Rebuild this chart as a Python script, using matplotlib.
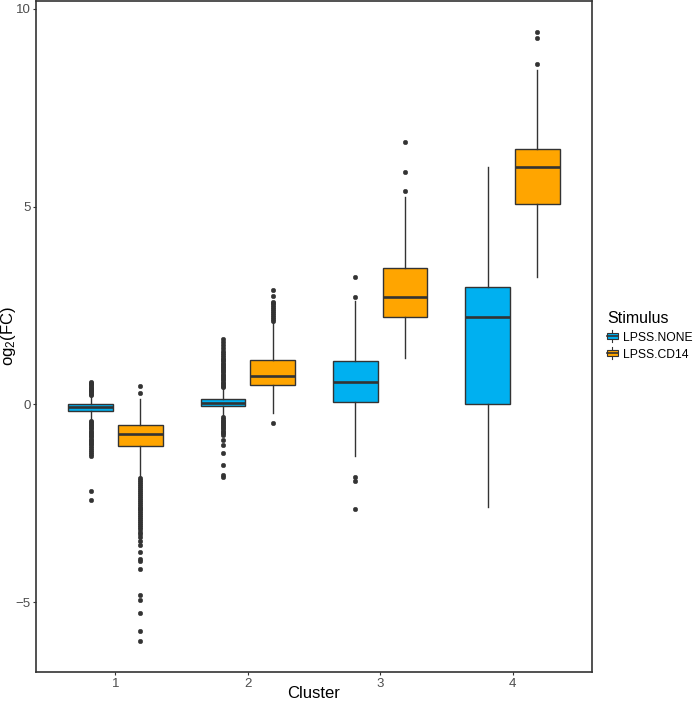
import matplotlib
matplotlib.use("Agg")
import matplotlib.pyplot as plt
from matplotlib.patches import Rectangle, Patch
from matplotlib.lines import Line2D
from matplotlib.legend_handler import HandlerBase

plt.rcParams['font.family'] = ['Liberation Sans', 'DejaVu Sans']
plt.rcParams['mathtext.fontset'] = 'custom'
plt.rcParams['mathtext.rm'] = 'Liberation Sans'
plt.rcParams['mathtext.it'] = 'Liberation Sans:italic'

# ---------------- data ----------------
clusters = [1, 2, 3, 4]
stimuli = ["LPSS.NONE", "LPSS.CD14"]
colors = {"LPSS.NONE": "#00B0F0", "LPSS.CD14": "#FFA500"}

none_q1 = [-0.17, -0.04, 0.06, 0.00]
none_med = [-0.07, 0.04, 0.56, 2.20]
none_q3 = [0.00, 0.14, 1.09, 2.97]
none_wlo = [-0.38, -0.30, -1.30, -2.60]
none_whi = [0.21, 0.40, 2.62, 5.99]
none_fliers = [
    [0.24, 0.27, 0.30, 0.33, 0.36, 0.39, 0.42, 0.45, 0.48, 0.51, 0.54, 0.57,
     -0.41, -0.45, -0.49, -0.53, -0.57, -0.61, -0.65, -0.69, -0.73, -0.77,
     -0.81, -0.85, -0.89, -0.93, -0.97, -1.01, -1.05, -1.10, -1.15, -1.20,
     -1.25, -1.30, -2.20, -2.42],
    [0.43, 0.47, 0.51, 0.55, 0.59, 0.63, 0.67, 0.71, 0.75, 0.79, 0.83, 0.87,
     0.91, 0.95, 0.99, 1.03, 1.07, 1.11, 1.15, 1.20, 1.25, 1.30, 1.36, 1.42,
     1.50, 1.58, 1.65,
     -0.33, -0.37, -0.41, -0.45, -0.49, -0.53, -0.57, -0.61, -0.65, -0.69,
     -0.73, -0.78, -0.91, -1.02, -1.22, -1.53, -1.80, -1.84],
    [2.71, 3.23, -1.85, -1.95, -2.65],
    [],
]

cd14_q1 = [-1.06, 0.50, 2.22, 5.07]
cd14_med = [-0.74, 0.72, 2.71, 5.99]
cd14_q3 = [-0.53, 1.12, 3.44, 6.46]
cd14_wlo = [-1.83, -0.21, 1.16, 3.21]
cd14_whi = [0.14, 2.05, 5.24, 8.45]
cd14_fliers = [
    [0.28, 0.47,
     -1.86, -1.91, -1.96, -2.01, -2.06, -2.11, -2.16, -2.21, -2.26, -2.31,
     -2.36, -2.41, -2.46, -2.51, -2.56, -2.61, -2.66, -2.71, -2.76, -2.81,
     -2.86, -2.91, -2.96, -3.01, -3.06, -3.11, -3.16, -3.22, -3.28, -3.35,
     -3.45, -3.57, -3.74, -3.92, -3.96, -4.17, -4.82, -4.96, -5.29, -5.73,
     -5.98],
    [2.10, 2.15, 2.20, 2.25, 2.30, 2.35, 2.40, 2.45, 2.50, 2.55, 2.60, 2.75,
     2.90, -0.47],
    [5.39, 5.87, 6.63],
    [8.60, 9.27, 9.42],
]

# ---------------- figure ----------------
fig = plt.figure(figsize=(6.99, 7.02), dpi=100)
ax = fig.add_axes([36 / 699, 1 - 672 / 702, (592 - 36) / 699, 671 / 702])

edge = "#333333"
dodge = 0.1875
width = 0.3375


def make_stats(q1, med, q3, wlo, whi, fl):
    return [dict(q1=a, med=b, q3=c, whislo=d, whishi=e, fliers=f)
            for a, b, c, d, e, f in zip(q1, med, q3, wlo, whi, fl)]


groups = [
    ("LPSS.NONE", make_stats(none_q1, none_med, none_q3, none_wlo, none_whi, none_fliers), -dodge),
    ("LPSS.CD14", make_stats(cd14_q1, cd14_med, cd14_q3, cd14_wlo, cd14_whi, cd14_fliers), dodge),
]

for name, stats, off in groups:
    ax.bxp(stats, positions=[c + off for c in clusters], widths=width,
           patch_artist=True, showcaps=False, manage_ticks=False,
           boxprops=dict(facecolor=colors[name], edgecolor=edge, linewidth=1.0),
           medianprops=dict(color=edge, linewidth=1.9, solid_capstyle='butt'),
           whiskerprops=dict(color=edge, linewidth=1.0),
           flierprops=dict(marker='o', markerfacecolor=edge, markeredgecolor=edge,
                           markersize=3.3, markeredgewidth=0.3))

ax.set_xlim(0.4, 4.6)
ax.set_ylim(-6.77, 10.2)
ax.set_xticks(clusters)
ax.set_xticklabels([str(c) for c in clusters])
ax.set_yticks([-5, 0, 5, 10])
ax.set_yticklabels(["\u22125", "0", "5", "10"])
ax.tick_params(axis='both', colors="#333333", labelcolor="#4D4D4D", length=2.5,
               width=0.8, labelsize=9.5, pad=1.5)
for s in ax.spines.values():
    s.set_color("#333333")
    s.set_linewidth(1.2)

fig.text(314 / 699, 1 - 693 / 702, "Cluster", ha='center', va='center', fontsize=12)
fig.text(9 / 699, 1 - 336 / 702, r"og$_\mathregular{2}$(FC)", rotation=90,
         ha='center', va='center', fontsize=12)


class BoxHandler(HandlerBase):
    def create_artists(self, legend, orig_handle, xdescent, ydescent, width, height,
                       fontsize, trans):
        x0, y0 = -xdescent, -ydescent
        whisk = Line2D([x0 + width / 2] * 2, [y0 - 0.1 * height, y0 + 1.1 * height],
                       color=edge, lw=0.8, transform=trans)
        rect = Rectangle((x0, y0 + 0.2 * height), width, 0.6 * height,
                         facecolor=orig_handle.get_facecolor(), edgecolor=edge,
                         lw=0.8, transform=trans)
        med = Line2D([x0, x0 + width], [y0 + height / 2] * 2, color=edge, lw=1.2,
                     transform=trans)
        return [whisk, rect, med]


handles = [Patch(facecolor=colors[s]) for s in stimuli]
leg = fig.legend(handles, stimuli, loc='center left',
                 bbox_to_anchor=(607 / 699, 1 - 336 / 702), frameon=False,
                 title="Stimulus", title_fontsize=11.5, fontsize=8.7,
                 handler_map={Patch: BoxHandler()}, handlelength=0.9,
                 handleheight=0.9, handletextpad=0.45, labelspacing=0.4,
                 borderpad=0, borderaxespad=0, alignment='left')

fig.savefig("out.png", dpi=100)
